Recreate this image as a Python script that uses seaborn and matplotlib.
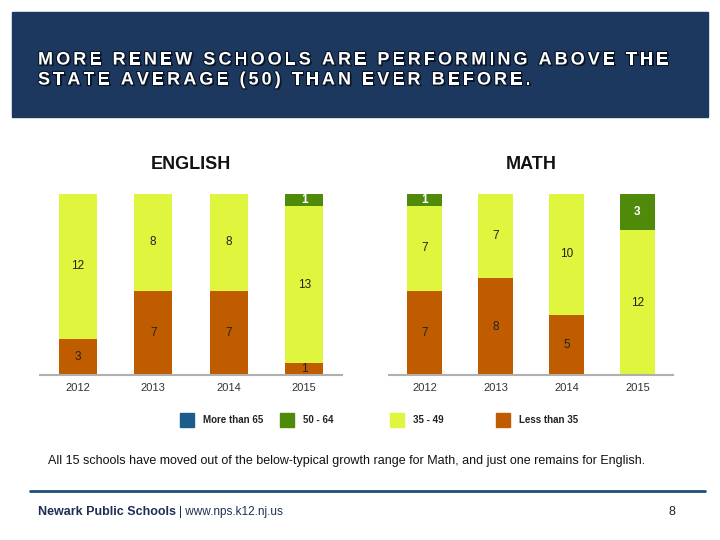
import matplotlib
matplotlib.use("Agg")
import matplotlib.pyplot as plt
import matplotlib.patheffects as pe
from matplotlib.patches import Rectangle
from matplotlib.font_manager import FontProperties
import seaborn as sns

# data
years = ["2012", "2013", "2014", "2015"]
levels = ["More than 65", "50 - 64", "35 - 49", "Less than 35"]
level_colors = ["#1a5c8c", "#4f8a0b", "#e0f53d", "#bf5c00"]

eng_below35 = [3, 7, 7, 1]
eng_35_49 = [12, 8, 8, 13]
eng_50_64 = [0, 0, 0, 1]

math_below35 = [7, 8, 5, 0]
math_35_49 = [7, 7, 10, 12]
math_50_64 = [1, 0, 0, 3]

sns.set_style("white")
plt.rcParams["font.family"] = ["Liberation Sans", "DejaVu Sans"]

fig = plt.figure(figsize=(7.2, 5.4), dpi=100)
W, H = 720, 540

# header band
fig.patches.append(Rectangle((12 / W, 1 - 117 / H), 696 / W, 105 / H,
                             transform=fig.transFigure, color="#1d385e", zorder=0))

renderer = fig.canvas.get_renderer()
title_lines = ["MORE RENEW SCHOOLS ARE PERFORMING ABOVE THE",
               "STATE AVERAGE (50) THAN EVER BEFORE."]
fp = FontProperties(family="Liberation Sans", weight="bold", size=13)


def char_w(ch):
    w1 = renderer.get_text_width_height_descent("|" + ch + "|", fp, ismath=False)[0]
    w0 = renderer.get_text_width_height_descent("||", fp, ismath=False)[0]
    return w1 - w0


# letter-spaced title, drawn one character at a time
spacing = 3.05
shadow = [pe.SimplePatchShadow(offset=(1.2, -1.2), shadow_rgbFace="#0a1628", alpha=1),
          pe.Stroke(linewidth=1.6, foreground="#0a1628"), pe.Normal()]
for line, ypx in zip(title_lines, [60, 80]):
    x = 38
    for ch in line:
        if ch != " ":
            fig.text(x / W, 1 - ypx / H, ch, fontproperties=fp, color="white",
                     va="center", ha="left", path_effects=shadow)
        x += char_w(ch) + spacing


def stacked(ax, below, mid, upper, title):
    bot2 = [a + b for a, b in zip(below, mid)]
    sns.barplot(x=years, y=below, color=level_colors[3], width=0.5, ax=ax,
                saturation=1, linewidth=0)
    sns.barplot(x=years, y=mid, bottom=below, color=level_colors[2], width=0.5,
                ax=ax, saturation=1, linewidth=0)
    sns.barplot(x=years, y=upper, bottom=bot2, color=level_colors[1], width=0.5,
                ax=ax, saturation=1, linewidth=0)
    for i in range(len(years)):
        segs = [(below[i], 0, "#222222", "normal"),
                (mid[i], below[i], "#222222", "normal"),
                (upper[i], bot2[i], "white", "bold")]
        for v, b, c, fw in segs:
            if v > 0:
                ax.text(i, b + v / 2, str(v), ha="center", va="center",
                        fontsize=8.5, color=c, fontweight=fw)
    ax.set_ylim(0, 15)
    ax.set_xlim(-0.5, 3.5)
    ax.set_yticks([])
    ax.set_xlabel("")
    ax.set_ylabel("")
    for s in ["top", "right", "left"]:
        ax.spines[s].set_visible(False)
    ax.spines["bottom"].set_color("#b0b0b0")
    ax.spines["bottom"].set_linewidth(1.5)
    ax.tick_params(axis="x", length=0, labelsize=8, labelcolor="#333333", pad=6)
    ax.set_title(title, fontsize=13, fontweight="bold", pad=18, color="#111111")


ax1 = fig.add_axes([40 / W, 1 - 375 / H, 302 / W, 181 / H])
ax2 = fig.add_axes([389 / W, 1 - 375 / H, 284 / W, 181 / H])
stacked(ax1, eng_below35, eng_35_49, eng_50_64, "ENGLISH")
stacked(ax2, math_below35, math_35_49, math_50_64, "MATH")

# legend
leg_x = [187, 287, 397, 503]
for lx, lab, col in zip(leg_x, levels, level_colors):
    fig.patches.append(Rectangle(((lx - 7) / W, 1 - 427 / H), 14 / W, 14 / H,
                                 transform=fig.transFigure, color=col))
    fig.text((lx + 16) / W, 1 - 420 / H, lab, fontsize=7, fontweight="bold",
             va="center", ha="left", color="#222222")

fig.text(48 / W, 1 - 461 / H,
         "All 15 schools have moved out of the below-typical growth range for Math, "
         "and just one remains for English.",
         fontsize=9, va="center", ha="left", color="#111111")

# footer
fig.add_artist(plt.Line2D([30 / W, 705 / W], [1 - 491 / H, 1 - 491 / H],
                          transform=fig.transFigure, color="#1c4f7a", linewidth=2))
t = fig.text(38 / W, 1 - 512 / H, "Newark Public Schools", fontsize=9,
             fontweight="bold", color="#1d2f55", va="center", ha="left")
bb = t.get_window_extent(renderer)
fig.text((bb.x1 + 3) / W, 1 - 512 / H, "| www.nps.k12.nj.us", fontsize=8.5,
         color="#1d2f55", va="center", ha="left")
fig.text(672 / W, 1 - 512 / H, "8", fontsize=9, color="#222222", va="center",
         ha="center")

fig.savefig("out.png", dpi=100)
